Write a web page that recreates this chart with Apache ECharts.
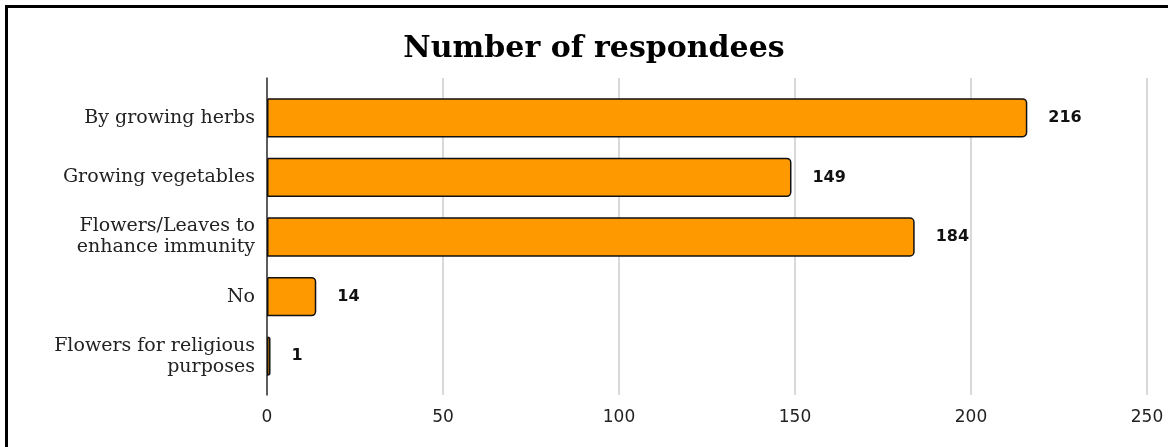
<!DOCTYPE html>
<html>
<head>
<meta charset="utf-8">
<script src="https://cdn.jsdelivr.net/npm/echarts@6/dist/echarts.min.js"></script>
<style>
  html, body { margin: 0; padding: 0; background: #fff; }
  #wrap { position: relative; width: 1168px; height: 447px; overflow: hidden; }
  #chart { position: absolute; left: 0; top: 0; width: 1168px; height: 447px; }
  #frame { position: absolute; left: 5px; top: 5px; width: 1200px; height: 500px;
           border-top: 3px solid #000; border-left: 3px solid #000; pointer-events: none; }
</style>
</head>
<body>
<div id="wrap">
  <div id="chart"></div>
  <div id="frame"></div>
</div>
<script>
// Survey answers and respondent counts
const categories = [
  'By growing herbs',
  'Growing vegetables',
  'Flowers/Leaves to\nenhance immunity',
  'No',
  'Flowers for religious\npurposes'
];
const respondents = [216, 149, 184, 14, 1];
const axisTicks = [0, 50, 100, 150, 200, 250];

const xMin = axisTicks[0];
const xMax = axisTicks[axisTicks.length - 1];
const xStep = axisTicks[1] - axisTicks[0];

const chart = echarts.init(document.getElementById('chart'), null, { renderer: 'canvas' });

chart.setOption({
  animation: false,
  backgroundColor: '#fff',
  title: {
    text: 'Number of respondees',
    left: 589,
    textAlign: 'center',
    top: 29,
    textStyle: {
      fontFamily: 'DejaVu Serif',
      fontWeight: 'bold',
      fontSize: 30,
      color: '#000'
    }
  },
  // grid 0: bars and category labels; grid 1: taller frame for the gridlines,
  // the zero line and the tick labels
  grid: [
    { left: 267, right: 21, top: 88, bottom: 61 },
    { left: 267, right: 21, top: 78, bottom: 52 }
  ],
  xAxis: [
    {
      gridIndex: 0,
      type: 'value',
      min: xMin, max: xMax, interval: xStep,
      axisLine: { show: false },
      axisTick: { show: false },
      splitLine: { show: false },
      axisLabel: { show: false }
    },
    {
      gridIndex: 1,
      type: 'value',
      min: xMin, max: xMax, interval: xStep,
      axisLine: { show: false },
      axisTick: { show: false },
      splitLine: { show: true, lineStyle: { color: '#cccccc', width: 1.5 } },
      axisLabel: {
        margin: 14,
        fontFamily: 'DejaVu Sans',
        fontSize: 17,
        color: '#222'
      }
    }
  ],
  yAxis: [
    {
      gridIndex: 0,
      type: 'category',
      inverse: true,
      data: categories,
      axisLine: { show: false },
      axisTick: { show: false },
      axisLabel: {
        margin: 12,
        fontFamily: 'DejaVu Serif',
        fontSize: 19,
        lineHeight: 21,
        color: '#222',
        align: 'right'
      }
    },
    {
      gridIndex: 1,
      type: 'category',
      inverse: true,
      data: categories,
      axisLine: { show: true, lineStyle: { color: '#333', width: 1.5 } },
      axisTick: { show: false },
      axisLabel: { show: false }
    }
  ],
  series: [{
    type: 'bar',
    xAxisIndex: 0,
    yAxisIndex: 0,
    data: respondents,
    barCategoryGap: '34%',
    z: 3,
    itemStyle: {
      color: '#ff9900',
      borderColor: '#111',
      borderWidth: 1.5,
      borderRadius: [0, 4, 4, 0]
    },
    label: {
      show: true,
      position: 'right',
      distance: 21,
      fontFamily: 'DejaVu Sans',
      fontWeight: 'bold',
      fontSize: 16,
      color: '#111'
    }
  }]
});
</script>
</body>
</html>
